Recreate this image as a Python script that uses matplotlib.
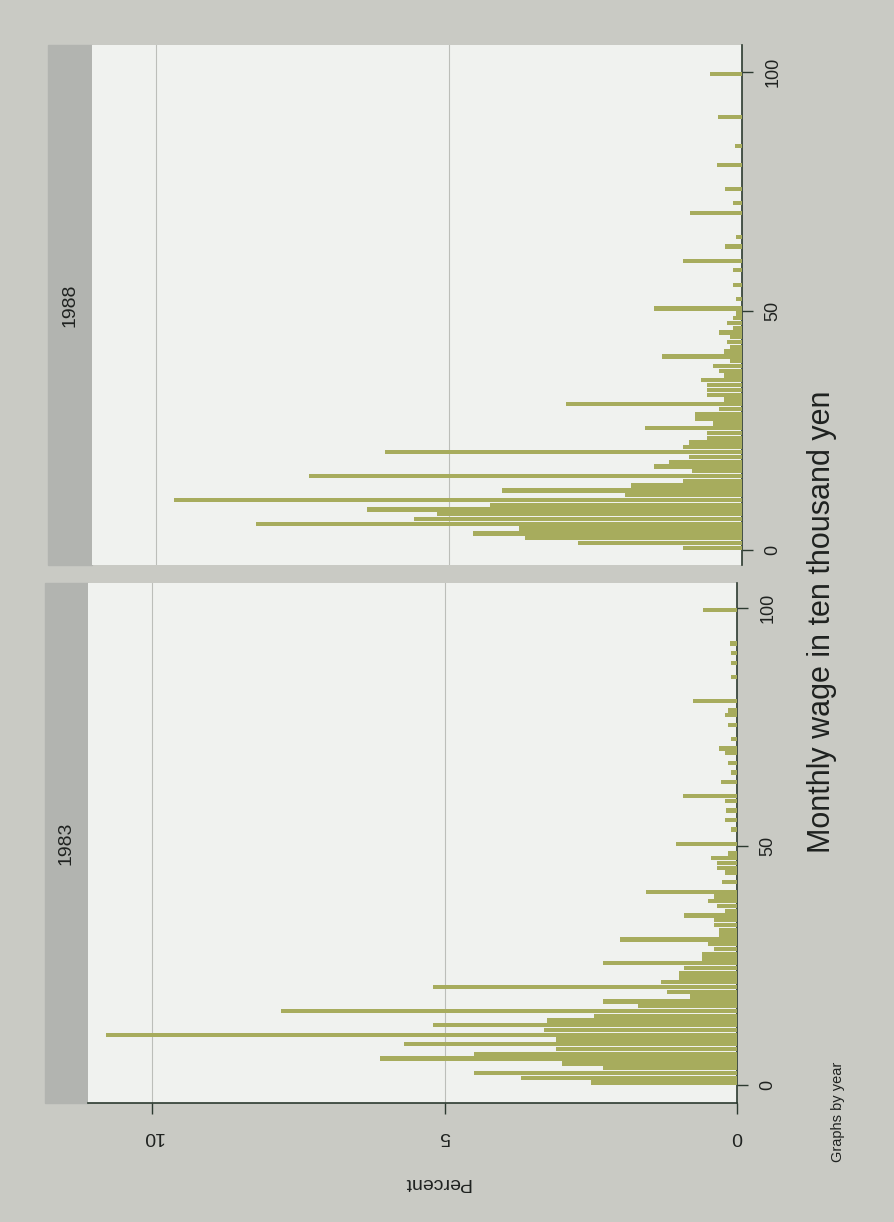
import matplotlib.pyplot as plt
from matplotlib.patches import Rectangle
import numpy as np

W, H = 894, 1222
DPI = 100

years = ['1983', '1988']
wage_ticks = [0, 50, 100]
pct_ticks = [0, 5, 10]

# histogram bins (lower edge, ten thousand yen) and percent of workers in the bin
bins_1983 = [0, 1, 2, 3, 4, 5, 6, 7, 8, 9, 10, 11, 12, 13, 14, 15, 16, 17, 18, 19,
             20, 21, 22, 23, 24, 25, 26, 27, 28, 29, 30, 31, 32, 33, 34, 35, 36, 37, 38, 39,
             40, 42, 44, 45, 46, 47, 48, 50, 53, 55, 57, 59, 60, 63, 65, 67, 69, 70,
             72, 75, 77, 78, 80, 85, 88, 90, 92, 99]
pct_1983 = [2.5, 3.7, 4.5, 2.3, 3.0, 6.1, 4.5, 3.1, 5.7, 3.1, 10.8, 3.3, 5.2, 3.25, 2.45, 7.8, 1.7, 2.3, 0.8, 1.2,
            5.2, 1.3, 1.0, 1.0, 0.9, 2.3, 0.6, 0.6, 0.4, 0.5, 2.0, 0.3, 0.3, 0.4, 0.4, 0.9, 0.2, 0.35, 0.5, 0.4,
            1.55, 0.25, 0.2, 0.35, 0.35, 0.45, 0.15, 1.05, 0.1, 0.2, 0.18, 0.2, 0.92, 0.27, 0.1, 0.15, 0.2, 0.3,
            0.1, 0.15, 0.2, 0.15, 0.75, 0.1, 0.1, 0.1, 0.12, 0.58]

bins_1988 = [0, 1, 2, 3, 4, 5, 6, 7, 8, 9, 10, 11, 12, 13, 14, 15, 16, 17, 18, 19,
             20, 21, 22, 23, 24, 25, 26, 27, 28, 29, 30, 31, 32, 33, 34, 35, 36, 37, 38, 39,
             40, 41, 42, 43, 44, 45, 46, 47, 48, 49, 50, 52, 55, 58, 60, 63, 65, 70,
             72, 75, 80, 84, 90, 99]
pct_1988 = [1.0, 2.8, 3.7, 4.6, 3.8, 8.3, 5.6, 5.2, 6.4, 4.3, 9.7, 2.0, 4.1, 1.9, 1.0, 7.4, 0.85, 1.5, 1.25, 0.9,
            6.1, 1.0, 0.9, 0.6, 0.6, 1.65, 0.5, 0.8, 0.8, 0.4, 3.0, 0.3, 0.6, 0.6, 0.6, 0.7, 0.3, 0.4, 0.5, 0.2,
            1.36, 0.3, 0.2, 0.25, 0.2, 0.4, 0.15, 0.25, 0.15, 0.1, 1.5, 0.1, 0.15, 0.15, 1.0, 0.29, 0.1, 0.88,
            0.15, 0.29, 0.43, 0.12, 0.41, 0.55]

bg = '#c9cac4'
strip_col = '#b2b4b0'
plot_bg = '#f0f2ef'
bar_col = '#a7ac5d'
text_col = '#1f2220'
font = 'Liberation Sans'


def box(left, top, right, bottom):
    return [left / W, 1 - bottom / H, (right - left) / W, (bottom - top) / H]


def fx(x):
    return x / W


def fy(y):
    return 1 - y / H


fig = plt.figure(figsize=(W / DPI, H / DPI), dpi=DPI, facecolor=bg)

# panel frames in pixels: (left, top, right, bottom) and strip x-range
panels = {
    '1988': dict(ax=(92, 45, 742, 565), strip=(48, 92), ylim=(-3.1, 105.6),
                 bins=bins_1988, pct=pct_1988),
    '1983': dict(ax=(88, 583, 737, 1103), strip=(45, 88), ylim=(-3.8, 105.2),
                 bins=bins_1983, pct=pct_1983),
}

for year in years:
    p = panels[year]
    l, t, r, b = p['ax']
    s0, s1 = p['strip']
    fig.add_artist(Rectangle((fx(s0), fy(b)), fx(s1) - fx(s0), fy(t) - fy(b),
                             transform=fig.transFigure, color=strip_col, zorder=0))
    fig.text(fx((s0 + s1) / 2), fy((t + b) / 2), year, rotation=90, ha='center', va='center',
             fontsize=14, family=font, color=text_col)

    ax = fig.add_axes(box(l, t, r, b))
    ax.set_facecolor(plot_bg)
    ax.barh(np.array(p['bins']) + 0.5, p['pct'], height=0.9, color=bar_col, zorder=3)
    ax.set_xlim(11.1, 0)
    ax.set_ylim(*p['ylim'])
    ax.set_xticks(pct_ticks)
    ax.grid(axis='x', color='#bcbeb9', linewidth=0.8, zorder=1)
    for side in ['top', 'left']:
        ax.spines[side].set_visible(False)
    ax.spines['right'].set_color('#2c3a30')
    ax.spines['right'].set_linewidth(1.2)
    ax.yaxis.tick_right()
    ax.set_yticks(wage_ticks)
    ax.tick_params(axis='y', length=8, width=1, color='#2c3a30', pad=8, labelsize=13,
                   labelrotation=90, labelcolor=text_col)
    for lab in ax.get_yticklabels():
        lab.set_family(font)
        lab.set_va('center')
    if year == '1983':
        ax.spines['bottom'].set_color('#2c3a30')
        ax.spines['bottom'].set_linewidth(1.2)
        ax.tick_params(axis='x', length=8, width=1, color='#2c3a30', pad=10, labelsize=14,
                       labelrotation=180, labelcolor=text_col)
        for lab in ax.get_xticklabels():
            lab.set_family(font)
    else:
        ax.spines['bottom'].set_visible(False)
        ax.tick_params(axis='x', length=0, labelbottom=False)

fig.text(fx(822), fy(622), 'Monthly wage in ten thousand yen', rotation=90, ha='center', va='center',
         fontsize=22, family=font, color=text_col)
fig.text(fx(838), fy(1112), 'Graphs by year', rotation=90, ha='center', va='center',
         fontsize=10.5, family=font, color=text_col)
fig.text(fx(437), fy(1182), 'Percent', rotation=180, ha='center', va='center',
         fontsize=14, family=font, color=text_col)

fig.savefig('out.png', dpi=DPI, facecolor=bg)
